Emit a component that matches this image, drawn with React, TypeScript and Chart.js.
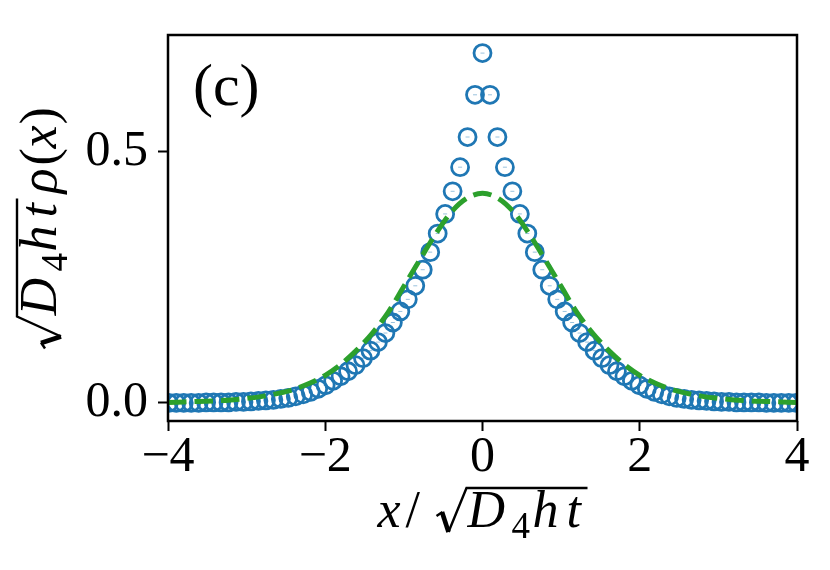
import React, { useEffect, useRef } from 'react';
import { Chart, registerables } from 'chart.js';

Chart.register(...registerables);

// ---- data ----
const X_POINTS = [
  -3.99, -3.895, -3.8, -3.705, -3.61, -3.515, -3.42, -3.325, -3.23, -3.135,
  -3.04, -2.945, -2.85, -2.755, -2.66, -2.565, -2.47, -2.375, -2.28, -2.185,
  -2.09, -1.995, -1.9, -1.805, -1.71, -1.615, -1.52, -1.425, -1.33, -1.235,
  -1.14, -1.045, -0.95, -0.855, -0.76, -0.665, -0.57, -0.475, -0.38, -0.285,
  -0.19, -0.095, 0, 0.095, 0.19, 0.285, 0.38, 0.475, 0.57, 0.665,
  0.76, 0.855, 0.95, 1.045, 1.14, 1.235, 1.33, 1.425, 1.52, 1.615,
  1.71, 1.805, 1.9, 1.995, 2.09, 2.185, 2.28, 2.375, 2.47, 2.565,
  2.66, 2.755, 2.85, 2.945, 3.04, 3.135, 3.23, 3.325, 3.42, 3.515,
  3.61, 3.705, 3.8, 3.895, 3.99,
];
const Y_POINTS = [
  0.0, 0.0, 0.0, 0.0, 0.0, 0.001, 0.001, 0.001, 0.001, 0.002,
  0.002, 0.003, 0.004, 0.005, 0.006, 0.008, 0.01, 0.013, 0.017, 0.022,
  0.028, 0.035, 0.044, 0.053, 0.063, 0.075, 0.089, 0.104, 0.121, 0.139,
  0.16, 0.182, 0.206, 0.233, 0.265, 0.3, 0.337, 0.376, 0.421, 0.469,
  0.529, 0.613, 0.696, 0.613, 0.529, 0.469, 0.421, 0.376, 0.337, 0.3,
  0.265, 0.233, 0.206, 0.182, 0.16, 0.139, 0.121, 0.104, 0.089, 0.075,
  0.063, 0.053, 0.044, 0.035, 0.028, 0.022, 0.017, 0.013, 0.01, 0.008,
  0.006, 0.005, 0.004, 0.003, 0.002, 0.002, 0.001, 0.001, 0.001, 0.001,
  0.0, 0.0, 0.0, 0.0, 0.0,
];
const X_CURVE = [
  -4, -3.8, -3.6, -3.4, -3.2, -3, -2.8, -2.6, -2.4, -2.2,
  -2, -1.8, -1.6, -1.4, -1.2, -1, -0.8, -0.6, -0.4, -0.2,
  0, 0.2, 0.4, 0.6, 0.8, 1, 1.2, 1.4, 1.6, 1.8,
  2, 2.2, 2.4, 2.6, 2.8, 3, 3.2, 3.4, 3.6, 3.8, 4,
];
const Y_CURVE = [
  0.001, 0.002, 0.003, 0.004, 0.006, 0.009, 0.013, 0.019, 0.027, 0.039,
  0.055, 0.077, 0.105, 0.139, 0.18, 0.232, 0.284, 0.335, 0.379, 0.407,
  0.417, 0.407, 0.379, 0.335, 0.284, 0.232, 0.18, 0.139, 0.105, 0.077,
  0.055, 0.039, 0.027, 0.019, 0.013, 0.009, 0.006, 0.004, 0.003, 0.002, 0.001,
];
const X_TICKS = [-4, -2, 0, 2, 4];
const Y_TICKS = [0, 0.5];
const PANEL_LABEL = '(c)';

const SERIF = '"Liberation Serif", "Times New Roman", serif';
const BLUE = '#1f77b4';
const GREEN = '#2ca02c';

type Seg = { t: string; at: number; k: 'i' | 'r' | 's' };
type MathLayout = { segs: Seg[]; rad: { at: number; w: number }; barEnd: number; total: number };

const X_TITLE: MathLayout = {
  segs: [
    { t: 'x', at: 0, k: 'i' },
    { t: '/', at: 28, k: 'r' },
    { t: 'D', at: 90, k: 'i' },
    { t: '4', at: 134, k: 's' },
    { t: 'h', at: 155, k: 'i' },
    { t: 't', at: 189, k: 'i' },
  ],
  rad: { at: 59, w: 30 },
  barEnd: 210,
  total: 210,
};

const Y_TITLE: MathLayout = {
  segs: [
    { t: 'D', at: 33, k: 'i' },
    { t: '4', at: 77, k: 's' },
    { t: 'h', at: 97, k: 'i' },
    { t: 't', at: 131, k: 'i' },
    { t: 'ρ', at: 155, k: 'i' },
    { t: '(', at: 183, k: 'r' },
    { t: 'x', at: 200, k: 'i' },
    { t: ')', at: 224, k: 'r' },
  ],
  rad: { at: 0, w: 32 },
  barEnd: 150,
  total: 241,
};

function drawMath(ctx: CanvasRenderingContext2D, L: MathLayout, ox: number, oy: number, rotated: boolean) {
  const F = 52;
  ctx.save();
  ctx.translate(ox, oy);
  if (rotated) ctx.rotate(-Math.PI / 2);
  const start = -L.total / 2;
  ctx.fillStyle = '#000';
  ctx.textAlign = 'left';
  ctx.textBaseline = 'alphabetic';
  for (const s of L.segs) {
    if (s.k === 'i') ctx.font = `italic ${F}px ${SERIF}`;
    else if (s.k === 'r') ctx.font = `${F}px ${SERIF}`;
    else ctx.font = `37px ${SERIF}`;
    ctx.fillText(s.t, start + s.at, s.k === 's' ? 11 : 0);
  }
  const r0 = start + L.rad.at;
  const w = L.rad.w;
  const top = -39;
  ctx.strokeStyle = '#000';
  ctx.lineCap = 'butt';
  ctx.lineJoin = 'miter';
  ctx.lineWidth = 2.4;
  ctx.beginPath();
  ctx.moveTo(r0, -11);
  ctx.lineTo(r0 + 6, -15);
  ctx.stroke();
  ctx.lineWidth = 4.6;
  ctx.beginPath();
  ctx.moveTo(r0 + 5.5, -15);
  ctx.lineTo(r0 + 12, 5);
  ctx.stroke();
  ctx.lineWidth = 2.4;
  ctx.beginPath();
  ctx.moveTo(r0 + 12, 5);
  ctx.lineTo(r0 + w, top);
  ctx.lineTo(start + L.barEnd, top);
  ctx.stroke();
  ctx.restore();
}

const fmtX = (v: number) => (v < 0 ? '\u2212' + Math.abs(v) : String(v));

const decorPlugin = {
  id: 'decor',
  afterDatasetsDraw(chart: any) {
    const { ctx, chartArea: a } = chart;
    ctx.save();
    ctx.strokeStyle = '#000';
    ctx.lineWidth = 2.5;
    ctx.strokeRect(a.left, a.top, a.right - a.left, a.bottom - a.top);
    ctx.fillStyle = '#000';
    ctx.font = `60px ${SERIF}`;
    ctx.textAlign = 'left';
    ctx.textBaseline = 'alphabetic';
    ctx.fillText(PANEL_LABEL, a.left + 25, a.top + 70);
    ctx.restore();
    drawMath(ctx, X_TITLE, (a.left + a.right) / 2, 527, false);
    drawMath(ctx, Y_TITLE, 56, (a.top + a.bottom) / 2, true);
  },
};

export default function App() {
  const ref = useRef<HTMLCanvasElement>(null);
  useEffect(() => {
    document.body.style.margin = '0';
    const canvas = ref.current!;
    const chart = new Chart(canvas, {
      type: 'scatter',
      data: {
        datasets: [
          {
            label: 'data',
            data: X_POINTS.map((x, i) => ({ x, y: Y_POINTS[i] })),
            borderColor: BLUE,
            backgroundColor: 'rgba(0,0,0,0)',
            pointRadius: 8.5,
            pointBorderWidth: 2.8,
            pointHoverRadius: 8.5,
            showLine: false,
            order: 2,
            clip: 0,
          } as any,
          {
            label: 'data-bar',
            data: X_POINTS.map((x, i) => ({ x, y: Y_POINTS[i] })),
            borderColor: 'rgba(31,119,180,0.45)',
            backgroundColor: 'rgba(0,0,0,0)',
            pointStyle: 'line',
            pointRadius: 2,
            pointBorderWidth: 1,
            showLine: false,
            order: 1,
            clip: 0,
          } as any,
          {
            label: 'theory',
            data: X_CURVE.map((x, i) => ({ x, y: Y_CURVE[i] })),
            borderColor: GREEN,
            backgroundColor: GREEN,
            borderWidth: 5,
            borderDash: [18.5, 8],
            pointRadius: 0,
            showLine: true,
            cubicInterpolationMode: 'monotone',
            order: 0,
            clip: 0,
          } as any,
        ],
      },
      options: {
        animation: false,
        responsive: false,
        events: [],
        layout: { padding: { top: 30, right: 33, bottom: 0, left: 0 } },
        plugins: { legend: { display: false }, tooltip: { enabled: false } },
        scales: {
          x: {
            type: 'linear',
            position: 'bottom',
            min: -4,
            max: 4,
            afterBuildTicks: (s: any) => {
              s.ticks = X_TICKS.map((v) => ({ value: v }));
            },
            afterFit: (s: any) => {
              s.height = 149;
            },
            ticks: {
              color: '#000',
              font: { family: SERIF, size: 50, lineHeight: 1 },
              padding: 2,
              maxRotation: 0,
              autoSkip: false,
              callback: (v: any) => fmtX(Number(v)),
            },
            grid: {
              display: true,
              drawOnChartArea: false,
              drawTicks: true,
              tickLength: 10,
              tickWidth: 2,
              tickColor: '#000',
            },
            border: { display: false },
          },
          y: {
            type: 'linear',
            min: -0.036,
            max: 0.732,
            afterBuildTicks: (s: any) => {
              s.ticks = Y_TICKS.map((v) => ({ value: v }));
            },
            afterFit: (s: any) => {
              s.width = 168;
            },
            ticks: {
              color: '#000',
              font: { family: SERIF, size: 50, lineHeight: 1 },
              padding: 10,
              autoSkip: false,
              callback: (v: any) => Number(v).toFixed(1),
            },
            grid: {
              display: true,
              drawOnChartArea: false,
              drawTicks: true,
              tickLength: 10,
              tickWidth: 2,
              tickColor: '#000',
            },
            border: { display: false },
          },
        },
      },
      plugins: [decorPlugin],
    });
    return () => chart.destroy();
  }, []);
  return (
    <div style={{ width: 830, height: 570, background: '#fff' }}>
      <canvas ref={ref} width={830} height={570} style={{ display: 'block' }} />
    </div>
  );
}
